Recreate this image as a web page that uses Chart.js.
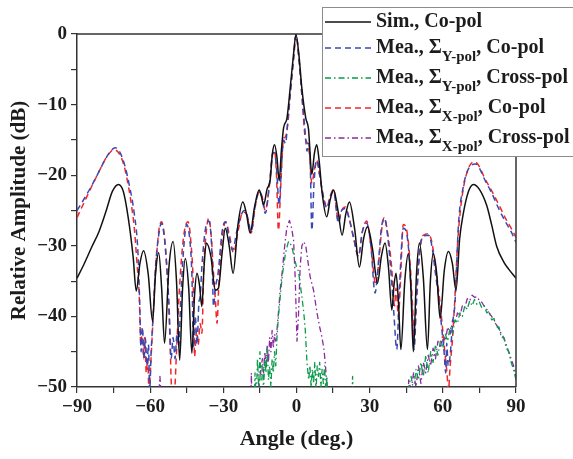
<!DOCTYPE html>
<html>
<head>
<meta charset="utf-8">
<script src="https://cdn.jsdelivr.net/npm/chart.js@4.4.1/dist/chart.umd.min.js"></script>
<style>
  html, body { margin: 0; padding: 0; background: #fff; }
  canvas { display: block; }
</style>
</head>
<body>
<canvas id="chart" width="573" height="459"></canvas>
<script>
// Данные (угол в градусах, уровень в дБ)
const simAngle = [-90,-87,-84,-81,-78,-75.5,-73,-71,-69,-67,-65.7,-64.2,-62.7,-60.8,-59,-57.8,-56.5,-55.3,-54.1,-52.3,-50.6,-49.2,-47.9,-46.7,-45.6,-44.2,-42.9,-41.8,-40.8,-39.8,-38.8,-37.9,-37,-35.1,-33.3,-32,-30.5,-29.2,-27.6,-26,-24,-22,-20.5,-19,-17.2,-15.3,-14.4,-13.5,-12.1,-10.8,-9.9,-9,-8,-7.1,-6.2,-5.3,-3.9,-2.6,-1.4,-0.2,1,2.2,3.8,4.9,6.3,7.3,8.3,9.3,10.5,12.4,13.8,15.2,17,18.7,20.2,21.7,23.8,25.8,27.5,29.1,31.2,33.2,34.8,36.3,37.7,39.1,40,40.8,41.8,42.8,44.4,45.9,46.9,47.9,49.2,50.4,52,53.7,54.9,56.1,57.5,58.9,60.6,62.3,63.9,65.4,66.9,68.4,70.5,72.5,75,78,80,82.1,85,87,90];
const simValue = [-34.6,-32.5,-30.2,-28,-25,-22.3,-21.3,-22.3,-26,-31.5,-36.4,-32.5,-30.7,-34,-40.7,-34,-31,-36,-43.8,-33,-29.4,-35,-46.2,-36,-31.8,-36,-45.2,-37,-33.9,-35.5,-38.6,-33,-29.6,-31.5,-36.3,-36,-31,-27.5,-30,-33.9,-27,-23.8,-25.5,-28.2,-24.5,-22.1,-23,-24.2,-22,-20.7,-17,-15.7,-17.5,-20.8,-16.5,-13.3,-11.9,-7.7,-3.5,-0.1,-3,-7.7,-11.9,-13.4,-19.9,-17,-15.7,-18,-22.5,-25.9,-23.5,-22.1,-25,-28.5,-25.5,-23.8,-27.5,-33,-29,-27.3,-30.5,-35.3,-31.5,-29.6,-33,-39.1,-35.5,-33.9,-38,-44.7,-35,-31.1,-36,-45,-34,-29.6,-34.5,-44.7,-35,-31.1,-34,-40.3,-33.5,-30.8,-32.5,-36.3,-29,-25.4,-22.3,-21.3,-22,-24.3,-27,-30.1,-32.3,-33.3,-34.6];

const yCoAngle = [-90,-87,-84,-81,-78,-76,-74.3,-72.5,-70.5,-68.5,-66.5,-65,-64.3,-63.7,-63.2,-62.5,-62,-61.3,-60.7,-60.2,-59.6,-58.8,-57.8,-56.5,-55.4,-54.3,-53.2,-52.2,-51.4,-50.6,-49.8,-49,-48.3,-47.5,-46.4,-45,-43.8,-42.9,-42.2,-41.5,-40.8,-40,-39.5,-38.8,-37.5,-36,-34.8,-34,-33.3,-32.2,-30.5,-29.2,-27.8,-26.2,-24.5,-22.5,-21.5,-20,-18.6,-17,-15.3,-14.2,-12.8,-11,-9.8,-9,-8.2,-7.1,-6.2,-5.3,-4.5,-3.5,-2.6,-1.2,-0.2,1,2.2,3.2,3.8,4.3,4.9,5.6,6.3,7.2,8.3,9.5,11,12.5,13.8,15.2,17.2,18.5,20,21.5,23.5,25.4,27,28.8,30.5,32.2,33.5,34.8,36,37.5,39,40,41.1,42.2,43.8,45.3,46.5,47.5,48.2,49.2,50.5,52,54.1,55.5,57,58.5,59.5,60.5,61.2,61.6,62.2,63,64,65,66.4,68.4,70,72,73.5,75,77,80,83,86,88,90];
const yCoValue = [-25,-23.3,-21.5,-19.5,-17.5,-16.5,-16.1,-16.7,-18.5,-21.5,-25.5,-31,-38,-45,-41.5,-46,-43,-47,-44,-50.5,-45,-40,-33,-28.5,-26.8,-28.5,-33,-39,-46,-43,-46,-42.5,-44.3,-38,-31,-27,-29,-34,-44.5,-40,-44,-38,-37.2,-33,-28,-26.5,-30,-38.6,-36,-34,-28,-26.6,-28.5,-30.6,-28,-25.5,-25,-26,-28,-24.5,-22.3,-23,-25.4,-21,-17,-16.8,-19,-24.2,-19,-15,-15.5,-12,-8.6,-3.5,-0.1,-3.5,-8.6,-12.5,-15,-16.6,-15.5,-18,-27.8,-21,-17.9,-20,-23,-24.7,-23,-22.3,-26.8,-25,-24.7,-26,-29,-31.5,-28,-26.8,-30,-36.7,-32.7,-27.5,-26.1,-29,-35,-40,-44.7,-36,-27.5,-28.5,-33,-40,-44.7,-38,-31,-28.6,-28.5,-30,-34,-38,-41.5,-45,-48,-43.8,-47,-45.5,-41,-38,-27,-21.6,-19.5,-18.5,-18.4,-19,-20.5,-22.5,-24.8,-26.8,-28,-29.5];

const xCoAngle = [-90,-87,-84,-81,-78,-76,-75,-73,-71,-69.5,-68,-66.5,-65.5,-64.5,-63.8,-63.2,-62.7,-62.2,-61.6,-61,-60.5,-59.5,-58.5,-57.5,-56.3,-55.3,-54.2,-53,-52,-51.2,-50.3,-49.2,-48.3,-47.2,-46,-44.5,-43.3,-42.3,-41.8,-41,-40.3,-39.5,-38.8,-38,-37,-36,-35,-34,-33.2,-32.6,-31.8,-30.5,-29,-27.5,-25.8,-24,-22,-20.5,-18.6,-17,-15.2,-14,-12.8,-11,-9.8,-9,-8.2,-7.4,-6.4,-5.3,-4.6,-3.5,-2.6,-1.2,-0.2,1,2.2,3.6,4.5,5.3,6.3,7.2,8.3,9.5,11,12.5,13.8,15.2,17.2,18.5,20,21.5,23.5,25.4,27,28.8,30.5,32.5,33.8,35,36,37.5,39,40.2,40.8,41.8,42.5,43.8,45.3,46.5,47.5,48.3,49.2,50.5,52,54.1,55.5,57,58.5,59.7,60.8,61.7,62.3,63,64,65,66,67.2,68.6,70.3,72,73.2,75,77,80,83,86,88,90];
const xCoValue = [-26,-23.8,-21.6,-19.5,-17.5,-16.6,-16.4,-16.8,-18.3,-20.5,-23.5,-27.5,-32,-37,-44,-42,-46,-43,-48,-46,-50.5,-45,-38,-32,-27.5,-26.6,-28.5,-34,-42,-50.5,-52,-45,-38,-32,-28,-26.6,-29.5,-36,-45.7,-42,-44,-41,-42.4,-33,-28,-26.1,-28.5,-34,-38,-41,-35,-29,-26.6,-28.5,-31,-28,-25.2,-25.5,-28.2,-24.5,-22.3,-23.2,-25,-21,-17,-16.5,-20,-27.8,-21,-14.8,-14.6,-12.5,-8.6,-3.5,-0.1,-3.5,-8.6,-14.8,-15.5,-17,-21.2,-19.5,-17.9,-20,-23,-24.5,-23,-22,-26.5,-25,-24.5,-26,-29,-31.5,-28,-26.5,-30,-35.5,-32,-27.5,-26,-28.5,-33,-38.5,-36,-40,-36,-27,-28,-32,-38,-43,-37,-30.5,-28.5,-28.3,-29.5,-33,-37,-41,-45,-48,-50.5,-47,-43,-37,-30,-25,-21.5,-19.2,-18.2,-18.1,-18.8,-20.3,-22.2,-24.2,-26.3,-27.5,-28.8];

const yCrossAngle = [-18,-17,-16.5,-16,-15.5,-15,-14.5,-14,-13.5,-13,-12.5,-12,-11.5,-11,-10.5,-10,-9.5,-9,-8.5,-8,-7.4,-6.5,-5.7,-4.5,-3.3,-2,-1,0,0.8,2.2,3,3.6,4.3,5,5.5,6,6.5,7,7.5,8,8.5,9,9.5,10,10.5,11,11.5,12,12.5,13,22,23,24,45,46,47,48,49,50,51,52,53,54,55,56,57,58,59,60,61,62,63,64,65,66,67,68,69,70,71,72,73,74,75,76,77,78,79,80,81,82,83,84,85,86,87,88,89,90];
const yCrossValue = [-60,-48,-52,-46,-50,-45,-49,-47,-50.5,-46,-48,-44.5,-49,-47,-50,-46,-48,-45,-47,-43,-40,-36.5,-33.9,-31,-29.4,-30,-31.5,-33,-33.6,-37.2,-39.5,-41.9,-46.6,-49,-47,-50,-47.5,-49.5,-46.5,-50.5,-47,-48.5,-46.5,-50,-47.5,-49.5,-47,-50.5,-48.5,-60,-60,-48.5,-60,-60,-50,-48.5,-50.5,-47.5,-49,-46.5,-48.5,-45.5,-48,-45,-46.5,-44,-45.5,-43.5,-44.5,-42.5,-43.5,-41.5,-42.5,-40.5,-41,-39.5,-40,-38.5,-39,-37.8,-38.5,-37.6,-38.3,-38,-38.8,-38.5,-39.5,-39.3,-40.5,-40.3,-41.5,-41.5,-43,-43,-44.5,-45,-46.5,-47.5,-49];

const xCrossAngle = [-58,-56,-54,-19,-18.5,-18,-15,-14,-13.5,-13,-12.5,-12,-11.5,-11,-10.5,-10,-9.5,-9,-8.5,-8,-7.3,-6.7,-5.8,-5,-4,-2.9,-2,-1.2,-0.5,0.2,0.8,1.5,2.2,3,3.8,5,5.6,7,8.4,9.5,10.4,11.2,11.8,12.5,13,45,46,47,48,49,50,51,52,53,54,55,56,57,58,59,60,61,62,63,64,65,66,67,68,69,70,71,72,73,74,75,76,77,78,79,80,81,82,83,84,85,86,87,88,89,90];
const xCrossValue = [-60,-48.5,-60,-60,-48,-60,-48.5,-46,-48,-45,-47,-44,-46.5,-43,-45,-42,-44.5,-42.5,-43.5,-41.9,-39,-36.3,-33.5,-30.5,-27.5,-26.4,-27.5,-29.2,-34.8,-43.5,-40,-33,-30,-29.4,-30,-33,-34.4,-36.3,-39.5,-41.5,-42.9,-44.5,-46.6,-50,-60,-60,-49,-50.5,-48,-50,-47,-49.5,-46.5,-48,-45.5,-47,-44.5,-46,-43.5,-44.5,-42.5,-43.5,-41.5,-42.5,-40.5,-41,-39.5,-40,-38.5,-38.8,-37.5,-37.8,-37,-37.3,-37.2,-37.8,-38,-38.6,-39,-39.5,-40,-40.5,-41.2,-41.8,-42.5,-43,-44,-45,-46,-47,-48.5];

// Подписи серий: [основной текст, нижний индекс, хвост]
const seriesLabels = [
    ['Sim., Co-pol', '', ''],
    ['Mea., \u03A3', 'Y-pol', ', Co-pol'],
    ['Mea., \u03A3', 'Y-pol', ', Cross-pol'],
    ['Mea., \u03A3', 'X-pol', ', Co-pol'],
    ['Mea., \u03A3', 'X-pol', ', Cross-pol']
];

const xTicks = [-90, -60, -30, 0, 30, 60, 90];
const yTicks = [0, -10, -20, -30, -40, -50];

const SERIF = '"Liberation Serif", "Times New Roman", serif';
const TEXT_COLOR = '#1c1c1c';
const AXIS_COLOR = '#333';

function toPoints(xs, ys) {
    return xs.map((x, i) => ({ x: x, y: ys[i] }));
}

function fmt(v) {
    return v < 0 ? '\u2212' + Math.abs(v) : String(v);
}

// Рамка сверху и справа
const framePlugin = {
    id: 'frame',
    afterDatasetsDraw(chart) {
        const { ctx, chartArea: a } = chart;
        ctx.save();
        ctx.strokeStyle = AXIS_COLOR;
        ctx.lineWidth = 1.5;
        ctx.beginPath();
        ctx.moveTo(a.left, a.top);
        ctx.lineTo(a.right, a.top);
        ctx.lineTo(a.right, a.bottom);
        ctx.stroke();
        ctx.restore();
    }
};

// Легенда в рамке с подстрочными индексами
const boxLegendPlugin = {
    id: 'boxLegend',
    afterDraw(chart) {
        const ctx = chart.ctx;
        const x0 = 322, y0 = 7;
        ctx.save();
        ctx.fillStyle = '#fff';
        ctx.fillRect(x0, y0, 260, 149);
        ctx.strokeStyle = '#8c8c8c';
        ctx.lineWidth = 1;
        ctx.strokeRect(x0 + 0.5, y0 + 0.5, 260, 149);

        chart.data.datasets.forEach((ds, i) => {
            const y = i === 0 ? 22 : 48 + (i - 1) * 30;
            ctx.beginPath();
            ctx.setLineDash(ds.borderDash || []);
            ctx.strokeStyle = ds.borderColor;
            ctx.lineWidth = ds.borderWidth;
            ctx.moveTo(325, y);
            ctx.lineTo(371, y);
            ctx.stroke();
            ctx.setLineDash([]);

            const [main, sub, tail] = seriesLabels[i];
            let x = 376;
            ctx.fillStyle = TEXT_COLOR;
            ctx.textBaseline = 'middle';
            ctx.textAlign = 'left';
            ctx.font = 'bold 20px ' + SERIF;
            ctx.fillText(main, x, y);
            x += ctx.measureText(main).width;
            if (sub) {
                ctx.font = 'bold 15px ' + SERIF;
                ctx.fillText(sub, x, y + 9);
                x += ctx.measureText(sub).width;
                ctx.font = 'bold 20px ' + SERIF;
                ctx.fillText(tail, x, y);
            }
        });
        ctx.restore();
    }
};

function initChart() {
    const ctx = document.getElementById('chart').getContext('2d');
    const base = { pointRadius: 0, fill: false, borderJoinStyle: 'round' };
    return new Chart(ctx, {
        type: 'line',
        data: {
            datasets: [
                Object.assign({}, base, {
                    label: 'Sim., Co-pol',
                    data: toPoints(simAngle, simValue),
                    borderColor: '#111',
                    borderWidth: 1.5,
                    cubicInterpolationMode: 'monotone'
                }),
                Object.assign({}, base, {
                    label: 'Mea., ΣY-pol, Co-pol',
                    data: toPoints(yCoAngle, yCoValue),
                    borderColor: '#3b48b0',
                    borderWidth: 1.5,
                    borderDash: [6, 4],
                    cubicInterpolationMode: 'monotone'
                }),
                Object.assign({}, base, {
                    label: 'Mea., ΣY-pol, Cross-pol',
                    data: toPoints(yCrossAngle, yCrossValue),
                    borderColor: '#0a9a4a',
                    borderWidth: 1.3,
                    borderDash: [6, 3, 1.5, 3],
                    tension: 0
                }),
                Object.assign({}, base, {
                    label: 'Mea., ΣX-pol, Co-pol',
                    data: toPoints(xCoAngle, xCoValue),
                    borderColor: '#f0262a',
                    borderWidth: 1.5,
                    borderDash: [6, 4],
                    cubicInterpolationMode: 'monotone'
                }),
                Object.assign({}, base, {
                    label: 'Mea., ΣX-pol, Cross-pol',
                    data: toPoints(xCrossAngle, xCrossValue),
                    borderColor: '#8a2a9e',
                    borderWidth: 1.3,
                    borderDash: [6, 3, 1.5, 3],
                    tension: 0
                })
            ]
        },
        options: {
            responsive: false,
            animation: false,
            devicePixelRatio: 1,
            layout: { padding: { top: 34, right: 57, left: 0, bottom: 0 } },
            plugins: {
                legend: { display: false },
                tooltip: { enabled: false }
            },
            scales: {
                x: {
                    type: 'linear',
                    min: -90,
                    max: 90,
                    afterFit(scale) { scale.height = 72; },
                    ticks: {
                        stepSize: 15,
                        autoSkip: false,
                        maxRotation: 0,
                        padding: 3,
                        color: TEXT_COLOR,
                        font: { family: SERIF, size: 19, weight: 'bold' },
                        callback: v => xTicks.includes(v) ? fmt(v) : ''
                    },
                    grid: { drawOnChartArea: false, tickLength: 6, color: AXIS_COLOR, lineWidth: 1.2 },
                    border: { display: true, color: AXIS_COLOR, width: 1.5 },
                    title: {
                        display: true,
                        text: 'Angle (deg.)',
                        color: TEXT_COLOR,
                        font: { family: SERIF, size: 22, weight: 'bold' },
                        padding: { top: 6, bottom: 6 }
                    }
                },
                y: {
                    min: -50,
                    max: 0,
                    afterFit(scale) { scale.width = 77; },
                    ticks: {
                        stepSize: 5,
                        autoSkip: false,
                        padding: 4,
                        color: TEXT_COLOR,
                        font: { family: SERIF, size: 19, weight: 'bold' },
                        callback: v => yTicks.includes(v) ? fmt(v) : ''
                    },
                    grid: { drawOnChartArea: false, tickLength: 6, color: AXIS_COLOR, lineWidth: 1.2 },
                    border: { display: true, color: AXIS_COLOR, width: 1.5 },
                    title: {
                        display: true,
                        text: 'Relative Amplitude (dB)',
                        color: TEXT_COLOR,
                        font: { family: SERIF, size: 21, weight: 'bold' },
                        padding: { top: 7, bottom: 7 }
                    }
                }
            }
        },
        plugins: [framePlugin, boxLegendPlugin]
    });
}

const chart = initChart();
</script>
</body>
</html>
